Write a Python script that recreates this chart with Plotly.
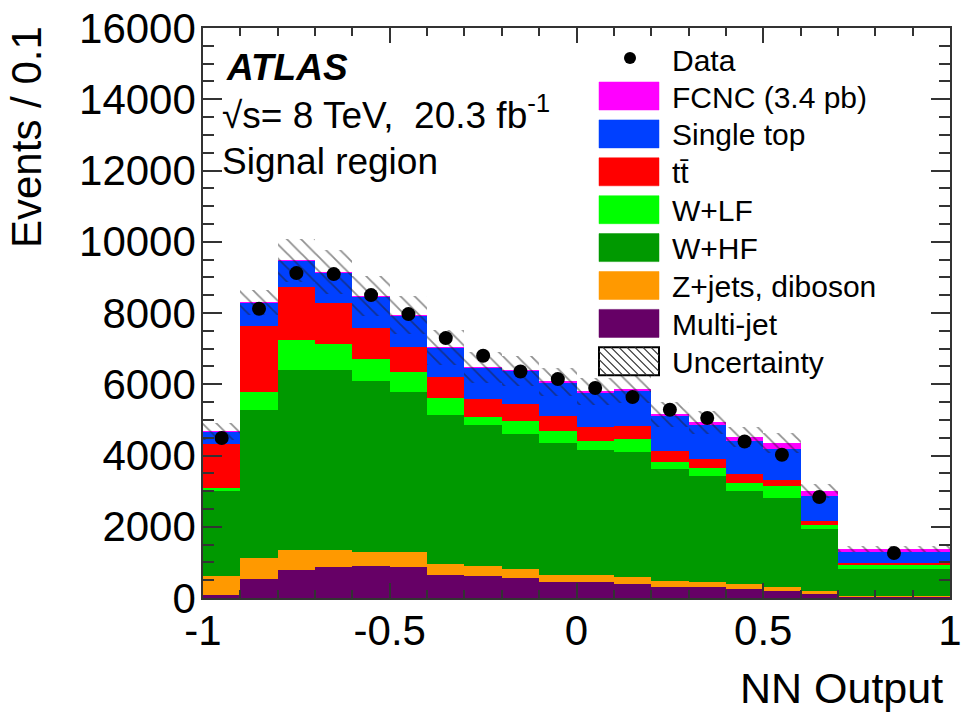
import numpy as np
import plotly.graph_objects as go

# ---------------- data ----------------
bin_edges = [-1.0, -0.9, -0.8, -0.7, -0.6, -0.5, -0.4, -0.3, -0.2, -0.1,
             0.0, 0.1, 0.2, 0.3, 0.4, 0.5, 0.6, 0.7, 1.0]

multijet = [93, 533, 774, 870, 887, 870, 645, 626, 561, 438, 438, 393, 297, 309, 261, 205, 140, 45]
zjets_diboson = [513, 589, 581, 485, 393, 410, 317, 261, 253, 216, 216, 185, 169, 129, 140, 104, 45, 20]
w_hf = [2385, 4142, 5051, 5051, 4798, 4489, 4181, 3956, 3788, 3695, 3507, 3519, 3154, 2974, 2610, 2497, 1751, 757]
w_lf = [96, 505, 842, 721, 628, 561, 458, 225, 353, 345, 233, 365, 185, 236, 216, 326, 101, 112]
ttbar = [1243, 1880, 1468, 1151, 870, 713, 595, 516, 489, 421, 404, 373, 309, 261, 252, 187, 132, 48]
single_top = [345, 646, 757, 870, 887, 887, 842, 887, 934, 946, 982, 990, 1010, 954, 935, 870, 702, 298]
fcnc = [2, 3, 3, 3, 3, 3, 4, 4, 5, 6, 8, 25, 40, 64, 104, 160, 140, 95]
uncertainty = [245, 356, 600, 625, 560, 533, 490, 440, 420, 400, 380, 370, 350, 320, 290, 270, 200, 80]
data = [4490, 8118, 9120, 9092, 8502, 7969, 7296, 6799, 6358, 6145, 5893, 5640, 5284, 5051, 4394, 4021, 2834, 1263]

x_ticks = [-1, -0.5, 0, 0.5, 1]
x_tick_labels = ["-1", "-0.5", "0", "0.5", "1"]
y_ticks = [0, 2000, 4000, 6000, 8000, 10000, 12000, 14000, 16000]
y_tick_labels = ["0", "2000", "4000", "6000", "8000", "10000", "12000", "14000", "16000"]

series = [
    ("Multi-jet", multijet, "#660066"),
    ("Z+jets, diboson", zjets_diboson, "#ff9900"),
    ("W+HF", w_hf, "#009900"),
    ("W+LF", w_lf, "#00ff00"),
    ("t\u0074\u0304", ttbar, "#ff0000"),
    ("Single top", single_top, "#0040ff"),
    ("FCNC (3.4 pb)", fcnc, "#ff00ff"),
]

# ---------------- figure ----------------
edges = np.array(bin_edges)
centers = (edges[:-1] + edges[1:]) / 2
widths = edges[1:] - edges[:-1]

FONT = "Liberation Sans, Arial, Helvetica, sans-serif"
fig = go.Figure()

base = np.zeros(len(centers))
for name, vals, col in series:
    v = np.array(vals, dtype=float)
    fig.add_trace(go.Bar(x=centers, y=v, base=base.copy(), width=widths,
                         marker=dict(color=col, line=dict(width=0)),
                         name=name, showlegend=False))
    base = base + v
total = base
unc = np.array(uncertainty, dtype=float)
fig.add_trace(go.Bar(x=centers, y=2 * unc, base=total - unc, width=widths,
                     marker=dict(color="rgba(0,0,0,0)", line=dict(width=0),
                                 pattern=dict(shape="\\", fgcolor="#222222", bgcolor="rgba(0,0,0,0)",
                                              size=10, solidity=0.18)),
                     showlegend=False, name="Uncertainty"))
fig.add_trace(go.Scatter(x=centers, y=data, mode="markers",
                         marker=dict(color="black", size=14), showlegend=False, name="Data"))

# pixel geometry of the plot area
W, H = 961, 714
L, R, T, B = 203, 950, 28, 598
def px(x):
    return (x - L) / (R - L)
def py(y):
    return (B - y) / (B - T)

fig.update_layout(
    width=W, height=H, barmode="overlay", bargap=0,
    margin=dict(l=L, r=W - R, t=T, b=H - B, autoexpand=False),
    paper_bgcolor="white", plot_bgcolor="white",
    font=dict(family=FONT, size=42, color="black"),
    showlegend=False,
)
axis_common = dict(showline=True, linecolor="#333333", linewidth=1.5, mirror="allticks",
                   ticks="inside", tickcolor="#333333", tickwidth=1.5, showgrid=False,
                   zeroline=False, automargin=False, ticklabeloverflow="allow",
                   tickfont=dict(family=FONT, size=42, color="black"))
fig.update_xaxes(range=[-1, 1], tickvals=x_ticks, ticktext=x_tick_labels, ticklen=15,
                 minor=dict(dtick=0.1, tick0=-1, ticklen=8, ticks="inside", tickcolor="#333333",
                            tickwidth=1.5, showgrid=False),
                 ticklabelstandoff=-5, **axis_common)
fig.update_yaxes(range=[0, 16000], tickvals=y_ticks, ticktext=y_tick_labels, ticklen=19,
                 minor=dict(dtick=500, tick0=0, ticklen=11, ticks="inside", tickcolor="#333333",
                            tickwidth=1.5, showgrid=False),
                 ticklabelstandoff=-3, **axis_common)

ann = []
# axis titles
ann.append(dict(x=px(945), y=py(688), xref="paper", yref="paper", text="NN Output",
                xanchor="right", yanchor="middle", showarrow=False,
                font=dict(family=FONT, size=43)))
ann.append(dict(x=px(26), y=py(24), xref="paper", yref="paper", text="Events / 0.1",
                textangle=-90, xanchor="center", yanchor="top", showarrow=False,
                font=dict(family=FONT, size=42)))
# labels
ann.append(dict(x=px(224), y=py(67), xref="paper", yref="paper", text="<b><i>ATLAS</i></b>",
                xanchor="left", yanchor="middle", showarrow=False, font=dict(family=FONT, size=37)))
ann.append(dict(x=px(220), y=py(112), xref="paper", yref="paper",
                text="\u221as= 8 TeV,\u00a0\u00a020.3 fb<sup>-1</sup>",
                xanchor="left", yanchor="middle", showarrow=False, font=dict(family=FONT, size=37)))
ann.append(dict(x=px(220), y=py(162), xref="paper", yref="paper", text="Signal region",
                xanchor="left", yanchor="middle", showarrow=False, font=dict(family=FONT, size=37)))

# manual legend
shapes = []
leg_items = [("FCNC (3.4 pb)", "#ff00ff"), ("Single top", "#0040ff"), ("t\u0074\u0304", "#ff0000"),
             ("W+LF", "#00ff00"), ("W+HF", "#009900"), ("Z+jets, diboson", "#ff9900"),
             ("Multi-jet", "#660066"), ("Uncertainty", None)]
sx0, sx1 = 599, 659
row0, step, sh = 82, 37.9, 28
text_x = 670
LEG = 30
# data entry
shapes.append(dict(type="circle", xref="paper", yref="paper",
                   x0=px(624), x1=px(636), y0=py(64), y1=py(52),
                   fillcolor="black", line=dict(width=0)))
ann.append(dict(x=px(text_x), y=py(61), xref="paper", yref="paper", text="Data",
                xanchor="left", yanchor="middle", showarrow=False, font=dict(family=FONT, size=LEG)))
for i, (lab, col) in enumerate(leg_items):
    y0 = row0 + i * step
    y1 = y0 + sh
    if col is not None:
        shapes.append(dict(type="rect", xref="paper", yref="paper",
                           x0=px(sx0), x1=px(sx1), y0=py(y1), y1=py(y0),
                           fillcolor=col, line=dict(width=0.5, color=col)))
    else:
        shapes.append(dict(type="rect", xref="paper", yref="paper",
                           x0=px(sx0), x1=px(sx1), y0=py(y1), y1=py(y0),
                           fillcolor="white", line=dict(width=2, color="black")))
        path = ""
        sp = 8
        c = -sh
        while c < (sx1 - sx0):
            xa, ya = sx0 + c, y0
            if xa < sx0:
                ya = y0 + (sx0 - xa)
                xa = sx0
            xb, yb = sx0 + c + sh, y1
            if xb > sx1:
                yb = y1 - (xb - sx1)
                xb = sx1
            if xb > xa and yb > ya:
                path += f"M{px(xa)},{py(ya)} L{px(xb)},{py(yb)} "
            c += sp
        shapes.append(dict(type="path", xref="paper", yref="paper", path=path,
                           line=dict(width=1.2, color="#333333")))
    ann.append(dict(x=px(text_x), y=py((y0 + y1) / 2 + 1), xref="paper", yref="paper", text=lab,
                    xanchor="left", yanchor="middle", showarrow=False,
                    font=dict(family=FONT, size=LEG)))

fig.update_layout(annotations=ann, shapes=shapes)
fig.write_html("out.html")
